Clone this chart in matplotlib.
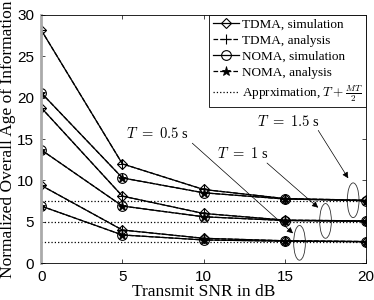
import matplotlib
matplotlib.use('Agg')
import matplotlib.pyplot as plt
from matplotlib.patches import Ellipse

# Data
snr = [0, 5, 10, 15, 20]
tdma_05 = [9.4, 4.0, 3.0, 2.7, 2.6]
noma_05 = [6.9, 3.4, 2.8, 2.65, 2.6]
tdma_10 = [18.8, 8.1, 6.0, 5.2, 5.1]
noma_10 = [13.7, 6.9, 5.6, 5.15, 5.05]
tdma_15 = [28.2, 12.0, 8.9, 7.8, 7.6]
noma_15 = [20.6, 10.3, 8.5, 7.75, 7.55]
approx = [2.5, 5.0, 7.5]  # T + MT/2 for T = 0.5, 1, 1.5

plt.rcParams['mathtext.fontset'] = 'cm'
serif = ['Liberation Serif', 'DejaVu Serif']
sans = 'Liberation Sans'

fig = plt.figure(figsize=(3.74, 3.0), dpi=100)
ax = fig.add_axes([0.110, 0.123, 0.869, 0.827])

lw = 0.9
ms = 5.5
for td, no in [(tdma_15, noma_15), (tdma_10, noma_10), (tdma_05, noma_05)]:
    ax.plot(snr, td, '-', color='k', lw=lw, marker='D', ms=ms, mfc='none', mew=0.8)
    ax.plot(snr, td, '--', color='k', lw=lw, marker='+', ms=ms + 2, mew=0.8)
    ax.plot(snr, no, '-', color='k', lw=lw, marker='o', ms=ms + 1.5, mfc='none', mew=0.8)
    ax.plot(snr, no, '--', color='k', lw=lw, marker='*', ms=ms + 1, mew=0.6)
for a in approx:
    ax.plot([snr[0], snr[-1]], [a, a], ':', color='k', lw=0.9)

# legend proxies
h1, = ax.plot([], [], '-', color='k', lw=lw, marker='D', ms=ms, mfc='none', mew=0.8)
h2, = ax.plot([], [], '--', color='k', lw=lw, marker='+', ms=ms + 2, mew=0.8)
h3, = ax.plot([], [], '-', color='k', lw=lw, marker='o', ms=ms + 1.5, mfc='none', mew=0.8)
h4, = ax.plot([], [], '--', color='k', lw=lw, marker='*', ms=ms + 1, mew=0.6)
h5, = ax.plot([], [], ':', color='k', lw=0.9)
leg = ax.legend([h1, h2, h3, h4, h5],
                ['TDMA, simulation', 'TDMA, analysis', 'NOMA, simulation',
                 'NOMA, analysis', r'Apprximation, $T+\frac{MT}{2}$'],
                loc='upper right', borderaxespad=0, fancybox=False,
                framealpha=1, edgecolor='k', handlelength=2.0,
                handletextpad=0.2, borderpad=0.25, labelspacing=0.3,
                prop={'family': serif, 'size': 9.5})
leg.get_frame().set_linewidth(0.6)

# ellipses and annotations
ells = [(15.9, 2.45), (17.5, 5.1), (19.2, 7.6)]
for cx, cy in ells:
    ax.add_patch(Ellipse((cx, cy), 0.72, 4.2, fill=False, ec='#333333', lw=0.6))

arrow = dict(arrowstyle='-|>', color='k', lw=0.5, mutation_scale=9, shrinkA=0, shrinkB=0)
ax.annotate('', xy=(15.5, 3.6), xytext=(9.3, 14.5), arrowprops=arrow)
ax.annotate('', xy=(17.05, 6.7), xytext=(13.9, 12.1), arrowprops=arrow)
ax.annotate('', xy=(18.9, 10.25), xytext=(17.05, 16.05), arrowprops=arrow)
ax.text(7.14, 15.7, r'$T\ =\ 0.5$ s', ha='center', va='center', fontsize=10.5, family=serif)
ax.text(12.4, 13.3, r'$T\ =\ 1$ s', ha='center', va='center', fontsize=10.5, family=serif)
ax.text(15.2, 17.1, r'$T\ =\ 1.5$ s', ha='center', va='center', fontsize=10.5, family=serif)

ax.set_xlim(0, 20)
ax.set_ylim(0, 30)
ax.set_xticks([0, 5, 10, 15, 20])
ax.set_yticks([0, 5, 10, 15, 20, 25, 30])
ax.tick_params(direction='in', top=True, right=True, length=3, width=0.5,
               labelsize=11, pad=5)
for lab in ax.get_xticklabels() + ax.get_yticklabels():
    lab.set_family(sans)
for s in ax.spines.values():
    s.set_linewidth(0.6)
ax.spines['left'].set_color('#aaaaaa')
ax.spines['left'].set_linewidth(2)

ax.set_xlabel('Transmit SNR in dB', family=serif, fontsize=12.5, labelpad=0)
ax.set_ylabel('Normalized Overall Age of Information', family=serif, fontsize=12.5, labelpad=1)

fig.savefig('out.png', dpi=100)
